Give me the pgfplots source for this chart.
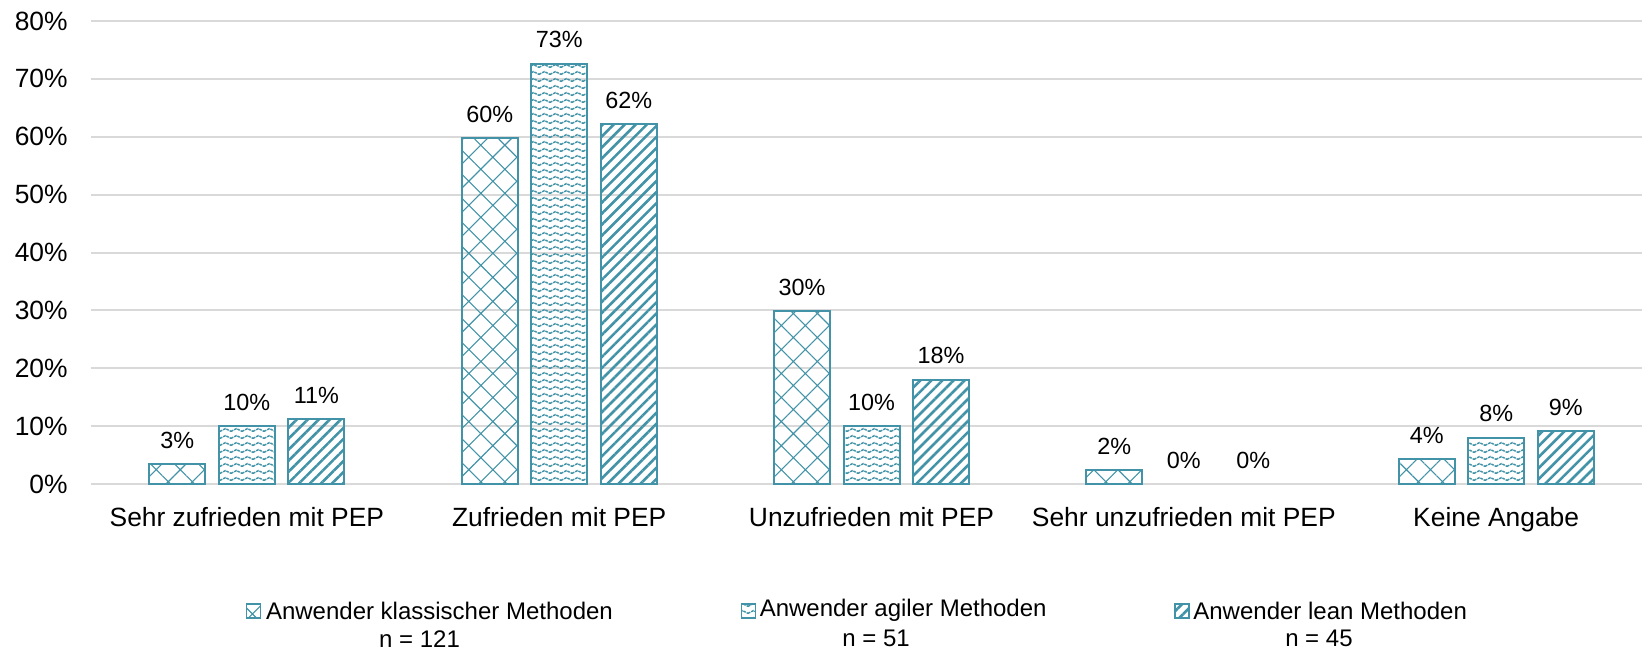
\documentclass[border=0pt]{standalone}
\usepackage{pgfplots}
\pgfplotsset{compat=1.18}
\usepackage{fontspec}
\setmainfont{Liberation Sans}
\usetikzlibrary{patterns,patterns.meta}
\definecolor{teal1}{RGB}{66,147,167}
\definecolor{gridc}{RGB}{217,217,217}

\pgfdeclarepattern{
  name=wavy,
  type=uncolored,
  bottom left={\pgfpoint{-.1pt}{-.1pt}},
  top right={\pgfpoint{5.6pt}{3.6pt}},
  tile size={\pgfpoint{5.5pt}{3.5pt}},
  code={
    \pgfsetlinewidth{0.75pt}
    \pgfsetdash{{1.3pt}{0.5pt}}{0pt}
    \pgfpathmoveto{\pgfpoint{0pt}{0.8pt}}
    \pgfpathcurveto{\pgfpoint{1.2pt}{0.8pt}}{\pgfpoint{1.55pt}{2.2pt}}{\pgfpoint{2.75pt}{2.2pt}}
    \pgfpathcurveto{\pgfpoint{3.95pt}{2.2pt}}{\pgfpoint{4.3pt}{0.8pt}}{\pgfpoint{5.5pt}{0.8pt}}
    \pgfusepath{stroke}
  }
}

\pgfplotstableread{
x klass agil lean
0 3.4 10.0 11.2
1 59.7 72.6 62.2
2 29.9 10.0 18.0
3 2.4 nan nan
4 4.3 8.0 9.1
}\datatable

\tikzset{
  pklass/.style={pattern={Hatch[angle=45,distance=8.5pt,line width=0.55pt]},pattern color=teal1},
  pagil/.style={pattern=wavy,pattern color=teal1},
  plean/.style={pattern={Lines[angle=45,distance=3.9pt,line width=1.3pt]},pattern color=teal1},
}

\begin{document}
\begin{tikzpicture}
\useasboundingbox (0,0) rectangle (825pt,325pt);
\begin{axis}[
  at={(45.35pt,83pt)}, anchor=south west,
  scale only axis,
  width=775.5pt, height=231.5pt,
  xmin=-0.5, xmax=4.466,
  ymin=0, ymax=80,
  ytick={0,10,...,80},
  yticklabel={\pgfmathprintnumber{\tick}\%},
  xtick={0,1,2,3,4},
  xticklabels={Sehr zufrieden mit PEP, Zufrieden mit PEP, Unzufrieden mit PEP, Sehr unzufrieden mit PEP, Keine Angabe},
  ymajorgrids,
  grid style={gridc, line width=1pt},
  axis line style={draw=none},
  major tick length=0pt,
  tick label style={font=\fontsize{13.2}{15}\selectfont},
  /pgf/number format/assume math mode=true,
  yticklabel style={xshift=-8pt},
  xticklabel style={anchor=base, yshift=-21pt},
  ybar=6.75pt,
  bar width=28pt,
  clip=false,
  nodes near coords={\pgfmathprintnumber[fixed,precision=0]{\pgfplotspointmeta}\%},
  nodes near coords style={font=\fontsize{11.7}{14}\selectfont, anchor=south, yshift=4pt},
]
\addplot[draw=teal1, line width=1pt, pklass] table[x=x,y=klass]{\datatable};
\addplot[draw=teal1, line width=1pt, pagil] table[x=x,y=agil]{\datatable};
\addplot[draw=teal1, line width=1pt, plean] table[x=x,y=lean]{\datatable};
% labels of the two zero values (no visible bar)
\addplot[sharp plot, bar shift=0pt, draw=none, mark=none, forget plot] coordinates {(3,0) (3.2225,0)};

% legend
\node[draw=teal1, line width=0.8pt, pklass, minimum size=7pt, inner sep=0pt] at (rel axis cs:0.1050,-0.2737) {};
\node[anchor=west, inner sep=0pt, font=\fontsize{12}{14}\selectfont] at (rel axis cs:0.1128,-0.2737) {Anwender klassischer Methoden};
\node[inner sep=0pt, font=\fontsize{12}{14}\selectfont] at (rel axis cs:0.2120,-0.3340) {n = 121};
\node[draw=teal1, line width=0.8pt, pagil, minimum size=7pt, inner sep=0pt] at (rel axis cs:0.4240,-0.2737) {};
\node[anchor=west, inner sep=0pt, font=\fontsize{12}{14}\selectfont] at (rel axis cs:0.4311,-0.2737) {Anwender agiler Methoden};
\node[inner sep=0pt, font=\fontsize{12}{14}\selectfont] at (rel axis cs:0.5064,-0.3340) {n = 51};
\node[draw=teal1, line width=0.8pt, plean, minimum size=7pt, inner sep=0pt] at (rel axis cs:0.7036,-0.2737) {};
\node[anchor=west, inner sep=0pt, font=\fontsize{12}{14}\selectfont] at (rel axis cs:0.7107,-0.2737) {Anwender lean Methoden};
\node[inner sep=0pt, font=\fontsize{12}{14}\selectfont] at (rel axis cs:0.7919,-0.3340) {n = 45};
\end{axis}
\end{tikzpicture}
\end{document}
